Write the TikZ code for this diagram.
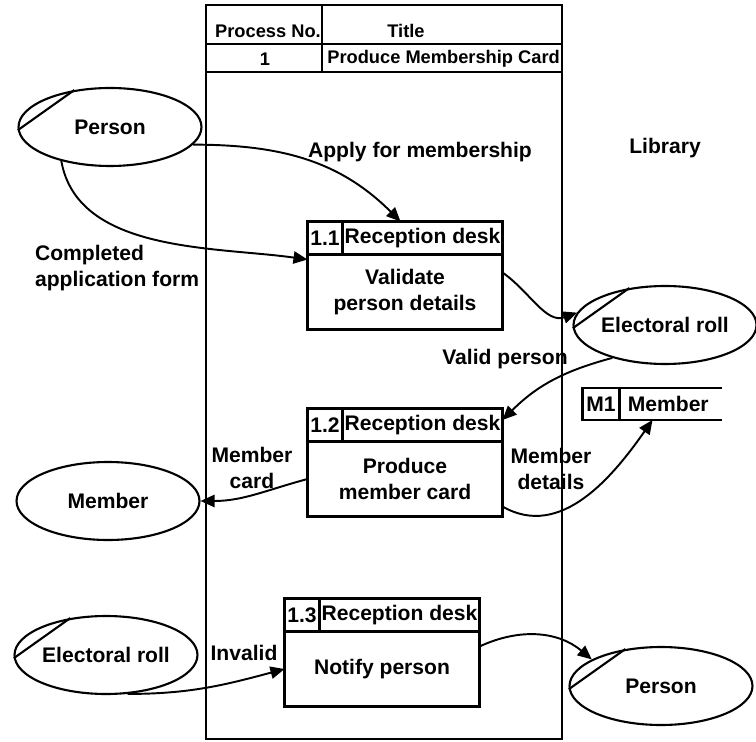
\documentclass[tikz,border=0pt]{standalone}
\usepackage{fontspec}
\setmainfont{Liberation Sans}
\usetikzlibrary{arrows.meta, positioning, shapes.geometric, calc}

\begin{document}
\begin{tikzpicture}[
  x=0.02cm, y=-0.02cm,
  >={Triangle[length=8pt, width=7pt]},
  font=\fontsize{12}{14.5}\selectfont\bfseries,
  flow/.style     = {->, line width=1.1pt},
  extent/.style   = {draw, ellipse, line width=1.2pt, minimum width=3.66cm, minimum height=1.56cm, inner sep=0pt},
  procbody/.style = {draw, rectangle, line width=1.3pt, outer sep=0pt, inner sep=0pt, align=center,
                     minimum width=3.9cm, minimum height=1.5cm},
  procid/.style   = {draw, rectangle, line width=1.3pt, outer sep=0pt, inner sep=0pt, anchor=south west,
                     minimum width=0.7cm, minimum height=0.66cm},
  procloc/.style  = {draw, rectangle, line width=1.3pt, outer sep=0pt, inner sep=0pt,
                     minimum width=3.2cm, minimum height=0.66cm},
  hdr/.style      = {font=\fontsize{10.4}{12}\selectfont\bfseries, inner sep=0pt},
  flowtxt/.style  = {align=center, inner sep=1pt},
]
  \useasboundingbox (0,0) rectangle (756,742);

  % library boundary with the process header table
  \draw[line width=0.9pt] (206,5) rectangle (562,739);
  \draw[line width=0.9pt] (206,44) -- (562,44) (206,72) -- (562,72) (322,5) -- (322,72);
  \node[hdr]              (hdno)    at (268,31) {Process No.};
  \node[hdr]              (hdtitle) at (406,31) {Title};
  \node[hdr]              (pno)     at (265,59) {1};
  \node[hdr, anchor=west] (ptitle)  at (327,59) {Produce Membership Card};
  \node (lib) at (665,148) {Library};

  % external entities
  \node[extent] (pers1) at (110,127) {Person};
  \node[extent] (roll1) at (665,325) {Electoral roll};
  \node[extent] (memb)  at (108,501) {Member};
  \node[extent] (roll2) at (106,655) {Electoral roll};
  \node[extent] (pers2) at (661,686) {Person};
  \foreach \e in {pers1,roll1,roll2,pers2}
    \draw[line width=1.2pt] (\e.182) -- (\e.134);

  % processes
  \node[procbody] (p11) at (405,292) {Validate\\person details};
  \node[procid] (p11id) at (p11.north west) {1.1};
  \node[procloc, right=0pt of p11id] (p11loc) {Reception desk};

  \node[procbody] (p12) at (405,479) {Produce\\member card};
  \node[procid] (p12id) at (p12.north west) {1.2};
  \node[procloc, right=0pt of p12id] (p12loc) {Reception desk};

  \node[procbody] (p13) at (382,669) {Notify person};
  \node[procid] (p13id) at (p13.north west) {1.3};
  \node[procloc, right=0pt of p13id] (p13loc) {Reception desk};

  % data store
  \node[draw, line width=1.2pt, outer sep=0pt, inner sep=0pt, minimum width=0.74cm, minimum height=0.64cm] (m1id) at (601,404) {M1};
  \node[anchor=west, inner sep=0pt] (m1name) at ($(m1id.east)+(8,0)$) {Member};
  \draw[line width=1.2pt] (m1id.north east) -- ++(102,0) (m1id.south east) -- ++(102,0);

  % flow labels
  \node[flowtxt] (applyt) at (420,152) {Apply for membership};
  \node[flowtxt, align=left, anchor=west] (complt) at (33,268) {Completed\\application form};
  \node[flowtxt] (validt) at (505,359) {Valid person};
  \node[flowtxt] (mcardt) at (252,468) {Member\\card};
  \node[flowtxt] (mdett)  at (551,469) {Member\\details};
  \node[flowtxt] (invt)   at (244,653) {Invalid};

  % data flows
  \draw[flow] (pers1.-12) to[out=0, in=135] ($(p11loc.north)+(-22,0)$);
  \draw[flow] (pers1.215) to[out=-80, in=172, looseness=0.9] ($(p11.north west)+(0,5)$);
  \draw[flow] ($(p11.north east)+(0,18)$) to[out=-35, in=200] (roll1.172);
  \draw[flow] (roll1.212) to[out=195, in=45] ($(p12loc.east)+(0,-5)$);
  \draw[flow] (p12.west) to[out=195, in=0] (memb.east);
  \draw[flow] ($(p12.south east)+(0,-10)$) to[out=-30, in=235] ($(m1id.south east)+(33,0)$);
  \draw[flow] (roll2.-61) to[out=0, in=195] (p13.west);
  \draw[flow] ($(p13.north east)+(0,15)$) to[out=25, in=140] (pers2.159);
\end{tikzpicture}
\end{document}
